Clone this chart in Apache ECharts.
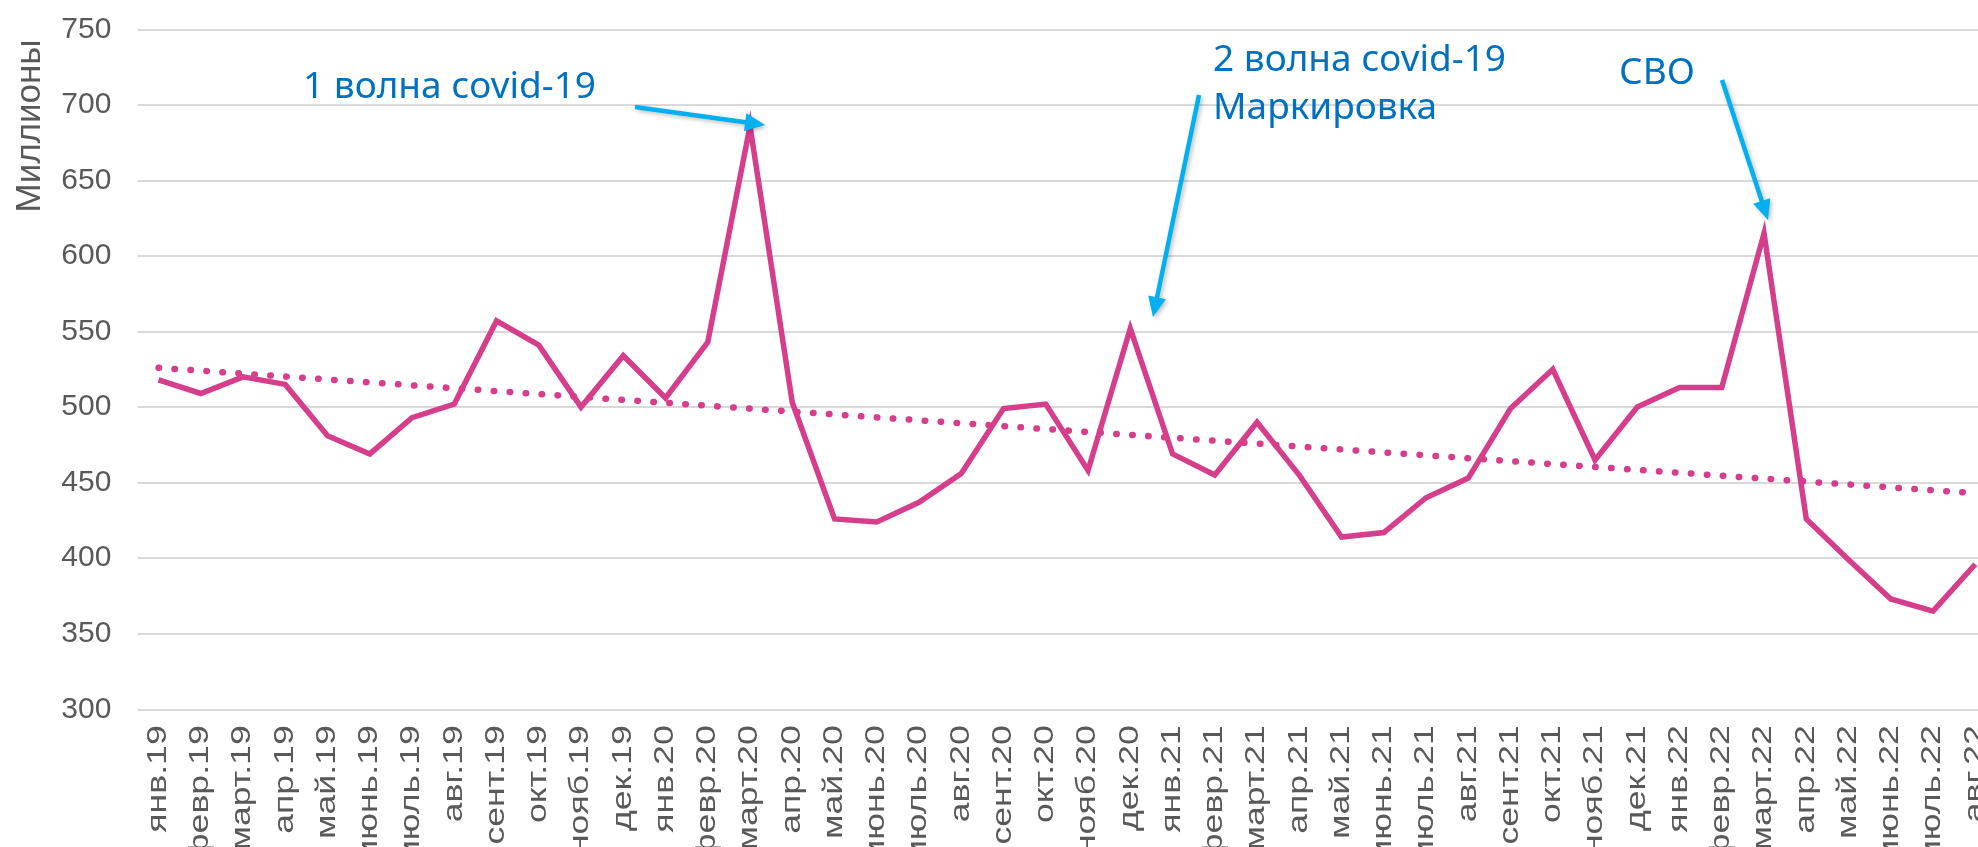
<!DOCTYPE html>
<html>
<head>
<meta charset="utf-8">
<style>
  html, body { margin: 0; padding: 0; background: #ffffff; }
  #chart { width: 1978px; height: 847px; }
</style>
<script src="https://cdn.jsdelivr.net/npm/echarts@6/dist/echarts.min.js"></script>
</head>
<body>
<div id="chart"></div>
<script>
const categories = [
  'янв.19','февр.19','март.19','апр.19','май.19','июнь.19','июль.19','авг.19','сент.19','окт.19','нояб.19','дек.19',
  'янв.20','февр.20','март.20','апр.20','май.20','июнь.20','июль.20','авг.20','сент.20','окт.20','нояб.20','дек.20',
  'янв.21','февр.21','март.21','апр.21','май.21','июнь.21','июль.21','авг.21','сент.21','окт.21','нояб.21','дек.21',
  'янв.22','февр.22','март.22','апр.22','май.22','июнь.22','июль.22','авг.22'
];
const values = [
  518, 509, 520, 515, 481, 469, 493, 502, 557, 541, 500, 534,
  506, 543, 686, 503, 426, 424, 437, 456, 499, 502, 458, 552,
  469, 455, 490, 455, 414, 417, 440, 453, 499, 525, 465, 500,
  513, 513, 615, 426, 399, 373, 365, 396
];
// linear trend line: values at first and last month
const trendEnds = [526, 443];
const yTicks = { min: 300, max: 750, interval: 50 };
const axisTitle = 'Миллионы';
const notes = [
  { lines: ['1 волна covid-19'], x: 303, y: 87.5 },
  { lines: ['2 волна covid-19', 'Маркировка'], x: 1213, y: 60 },
  { lines: ['СВО'], x: 1619, y: 73.5 }
];
const arrows = [
  { from: [635, 107], to: [765, 125] },
  { from: [1199, 95], to: [1153, 317] },
  { from: [1722, 80], to: [1768, 220] }
];

const trendData = categories.map((c, i) => i === 0 ? trendEnds[0] : (i === categories.length - 1 ? trendEnds[1] : null));

const LINE = '#D63E8B';
const NOTE = '#0070C0';
const ARROW = '#00B0F0';
const LABEL = '#595959';

function arrowElems(a) {
  const [x1, y1] = a.from, [x2, y2] = a.to;
  const dx = x2 - x1, dy = y2 - y1;
  const len = Math.sqrt(dx * dx + dy * dy);
  const ux = dx / len, uy = dy / len;
  const headL = 20, headW = 9;
  const bx = x2 - ux * headL, by = y2 - uy * headL;
  const px = -uy, py = ux;
  const shadow = { shadowBlur: 4, shadowColor: 'rgba(0,0,0,0.25)', shadowOffsetX: 2, shadowOffsetY: 2 };
  return [
    { type: 'line', shape: { x1: x1, y1: y1, x2: bx + ux * 2, y2: by + uy * 2 },
      style: Object.assign({ stroke: ARROW, lineWidth: 4.5 }, shadow), z: 10 },
    { type: 'polygon', shape: { points: [[x2, y2], [bx + px * headW, by + py * headW], [bx - px * headW, by - py * headW]] },
      style: Object.assign({ fill: ARROW }, shadow), z: 10 }
  ];
}

const graphics = [];
notes.forEach(n => {
  n.lines.forEach((t, k) => {
    graphics.push({
      type: 'text', x: n.x, y: n.y + k * 48, z: 10,
      style: { text: t, fill: NOTE, font: '37px "Noto Sans"', align: 'left', verticalAlign: 'middle' }
    });
  });
});
arrows.forEach(a => arrowElems(a).forEach(e => graphics.push(e)));
graphics.push({
  type: 'text', x: 30, y: 126, rotation: Math.PI / 2, z: 10,
  style: { text: axisTitle, fill: LABEL, font: '35px "Liberation Sans"', align: 'center', verticalAlign: 'middle' }
});

const chart = echarts.init(document.getElementById('chart'), null, { renderer: 'canvas' });
chart.setOption({
  backgroundColor: '#ffffff',
  animation: false,
  grid: { left: 137.4, top: 29.3, width: 1859, height: 680, outerBoundsMode: 'none', containLabel: false },
  xAxis: {
    type: 'category',
    data: categories,
    boundaryGap: true,
    axisLine: { show: false },
    axisTick: { show: false },
    axisLabel: { show: false }
  },
  yAxis: {
    type: 'value',
    min: yTicks.min, max: yTicks.max, interval: yTicks.interval,
    axisLine: { show: false },
    axisTick: { show: false },
    splitLine: { lineStyle: { color: '#D9D9D9', width: 2 } },
    axisLabel: { color: LABEL, fontFamily: 'Liberation Sans', fontSize: 30, margin: 26 }
  },
  series: [
    {
      type: 'line', data: values, showSymbol: false, symbol: 'none',
      lineStyle: { color: LINE, width: 5.5, join: 'miter' }, z: 3
    },
    {
      type: 'line', data: trendData, connectNulls: true, showSymbol: false, symbol: 'none',
      lineStyle: { color: LINE, width: 6.5, type: [0.5, 15.5], cap: 'round' }, z: 2
    }
  ],
  graphic: graphics
});

// category labels: placed at the category axis positions, stretched along the text as in the original
const axisBottom = chart.convertToPixel({ yAxisIndex: 0 }, yTicks.min);
categories.forEach((c, i) => {
  const px = chart.convertToPixel({ xAxisIndex: 0 }, i);
  graphics.push({
    type: 'text', x: px, y: axisBottom + 16, rotation: Math.PI / 2, scaleX: 1.32, z: 10,
    style: { text: c, fill: LABEL, font: '27px "Liberation Sans"', align: 'right', verticalAlign: 'middle' }
  });
});
chart.setOption({ graphic: graphics }, { replaceMerge: ['graphic'] });
</script>
</body>
</html>
